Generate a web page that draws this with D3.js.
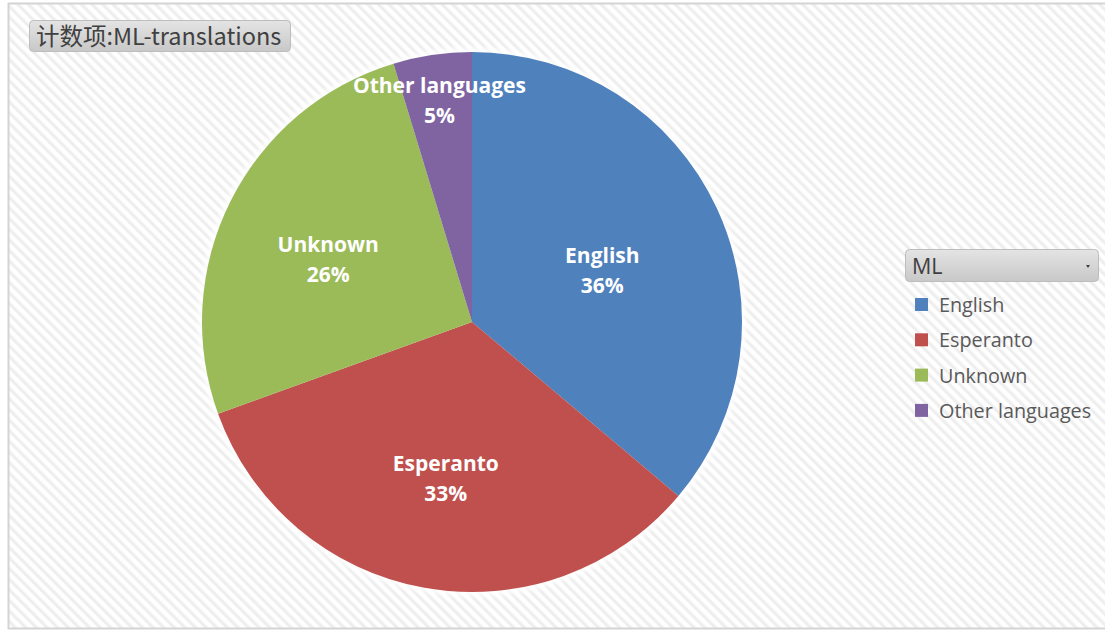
<!DOCTYPE html>
<html>
<head>
<meta charset="utf-8">
<script src="https://cdn.jsdelivr.net/npm/d3@7"></script>
<style>
  html, body { margin: 0; padding: 0; background: #ffffff; }
  svg { display: block; }
</style>
</head>
<body>
<svg id="chart" width="1105" height="630"></svg>
<script>
// Pivot chart: count of ML-translations by language
const categories = ["English", "Esperanto", "Unknown", "Other languages"];
const counts = [77, 71, 55, 10];
const colors = ["#4f81bd", "#c0504d", "#9bbb59", "#8064a2"];
const titleText = "计数项:ML-translations";
const legendTitle = "ML";

const W = 1105, H = 630;
const svg = d3.select("#chart");
const defs = svg.append("defs");

// diagonal hatch for the chart area
const pat = defs.append("pattern")
  .attr("id", "hatch").attr("patternUnits", "userSpaceOnUse")
  .attr("width", 7.5).attr("height", 7.5)
  .attr("patternTransform", "rotate(-45)");
pat.append("rect").attr("width", 7.5).attr("height", 7.5).attr("fill", "#ffffff");
pat.append("rect").attr("x", 0).attr("width", 4).attr("height", 7.5).attr("fill", "#f6f6f6");
pat.append("rect").attr("x", 1).attr("width", 2).attr("height", 7.5).attr("fill", "#ededed");

const btnGrad = defs.append("linearGradient").attr("id", "btn")
  .attr("x1", 0).attr("y1", 0).attr("x2", 0).attr("y2", 1);
btnGrad.append("stop").attr("offset", "0%").attr("stop-color", "#e4e4e4");
btnGrad.append("stop").attr("offset", "100%").attr("stop-color", "#c8c8c8");

const glow = defs.append("filter").attr("id", "glow")
  .attr("x", "-10%").attr("y", "-10%").attr("width", "120%").attr("height", "120%");
glow.append("feGaussianBlur").attr("stdDeviation", 2.5);

// chart area
svg.append("rect").attr("x", 9).attr("y", 4).attr("width", W - 9).attr("height", 624)
  .attr("fill", "url(#hatch)");
svg.append("line").attr("x1", 8).attr("x2", W).attr("y1", 3.5).attr("y2", 3.5)
  .attr("stroke", "#d4d4d4").attr("stroke-width", 2);
svg.append("line").attr("x1", 8.5).attr("x2", 8.5).attr("y1", 3).attr("y2", 629)
  .attr("stroke", "#d4d4d4").attr("stroke-width", 2);
svg.append("line").attr("x1", 8).attr("x2", W).attr("y1", 628.5).attr("y2", 628.5)
  .attr("stroke", "#d4d4d4").attr("stroke-width", 2);

// title button
const tb = svg.append("g");
tb.append("rect").attr("x", 29.5).attr("y", 20.5).attr("width", 261).attr("height", 31)
  .attr("rx", 4).attr("fill", "url(#btn)").attr("stroke", "#bdbdbd");
tb.append("text").attr("x", 36).attr("y", 45)
  .attr("font-family", "'Noto Sans CJK SC', 'Open Sans', sans-serif")
  .attr("font-size", 23.5).attr("fill", "#404040").text(titleText);

// pie
const cx = 472, cy = 322, R = 270;
const total = d3.sum(counts);
const pie = d3.pie().sort(null).value(d => d)(counts);
const arc = d3.arc().innerRadius(0).outerRadius(R);
const g = svg.append("g").attr("transform", `translate(${cx},${cy})`);

g.append("circle").attr("r", R + 1).attr("fill", "none")
  .attr("stroke", "#ffffff").attr("stroke-width", 5).attr("filter", "url(#glow)");

g.selectAll("path.slice").data(pie).enter().append("path")
  .attr("class", "slice").attr("d", arc)
  .attr("fill", (d, i) => colors[i]);

// labels: placed near the area centroid of each wedge; thin wedges push out
g.selectAll("g.lbl").data(pie).enter().append("g").attr("class", "lbl")
  .each(function(d, i) {
    const share = d.value / total;
    const thin = share < 0.08;
    const half = (d.endAngle - d.startAngle) / 2;
    const r = thin ? R * 0.82 : (2 / 3) * R * Math.sin(half) / half;
    const a = (d.startAngle + d.endAngle) / 2;
    const x = Math.sin(a) * r, y = -Math.cos(a) * r + (thin ? -2 : 10);
    const t = d3.select(this).append("text")
      .attr("text-anchor", "middle")
      .attr("font-family", "'Open Sans', 'Noto Sans', sans-serif")
      .attr("font-weight", "bold").attr("font-size", 21).attr("fill", "#ffffff");
    t.append("tspan").attr("x", x).attr("y", y - 8).text(categories[i]);
    t.append("tspan").attr("x", x).attr("y", y + 22).text(Math.round(share * 100) + "%");
  });

// legend
const lg = svg.append("g");
lg.append("rect").attr("x", 905.5).attr("y", 249.5).attr("width", 193).attr("height", 32)
  .attr("rx", 4).attr("fill", "url(#btn)").attr("stroke", "#bdbdbd");
lg.append("text").attr("x", 912).attr("y", 274)
  .attr("font-family", "'Open Sans', sans-serif").attr("font-size", 21.5)
  .attr("fill", "#404040").text(legendTitle);
lg.append("path").attr("d", "M1086,265 L1090,265 L1088,268 Z").attr("fill", "#404040");

const items = lg.selectAll("g.item").data(categories).enter().append("g")
  .attr("class", "item")
  .attr("transform", (d, i) => `translate(915, ${298 + i * 35.3})`);
items.append("rect").attr("width", 13).attr("height", 13)
  .attr("fill", (d, i) => colors[i]);
items.append("text").attr("x", 24).attr("y", 14)
  .attr("font-family", "'Open Sans', sans-serif").attr("font-size", 19.8)
  .attr("fill", "#595959").text(d => d);
</script>
</body>
</html>
